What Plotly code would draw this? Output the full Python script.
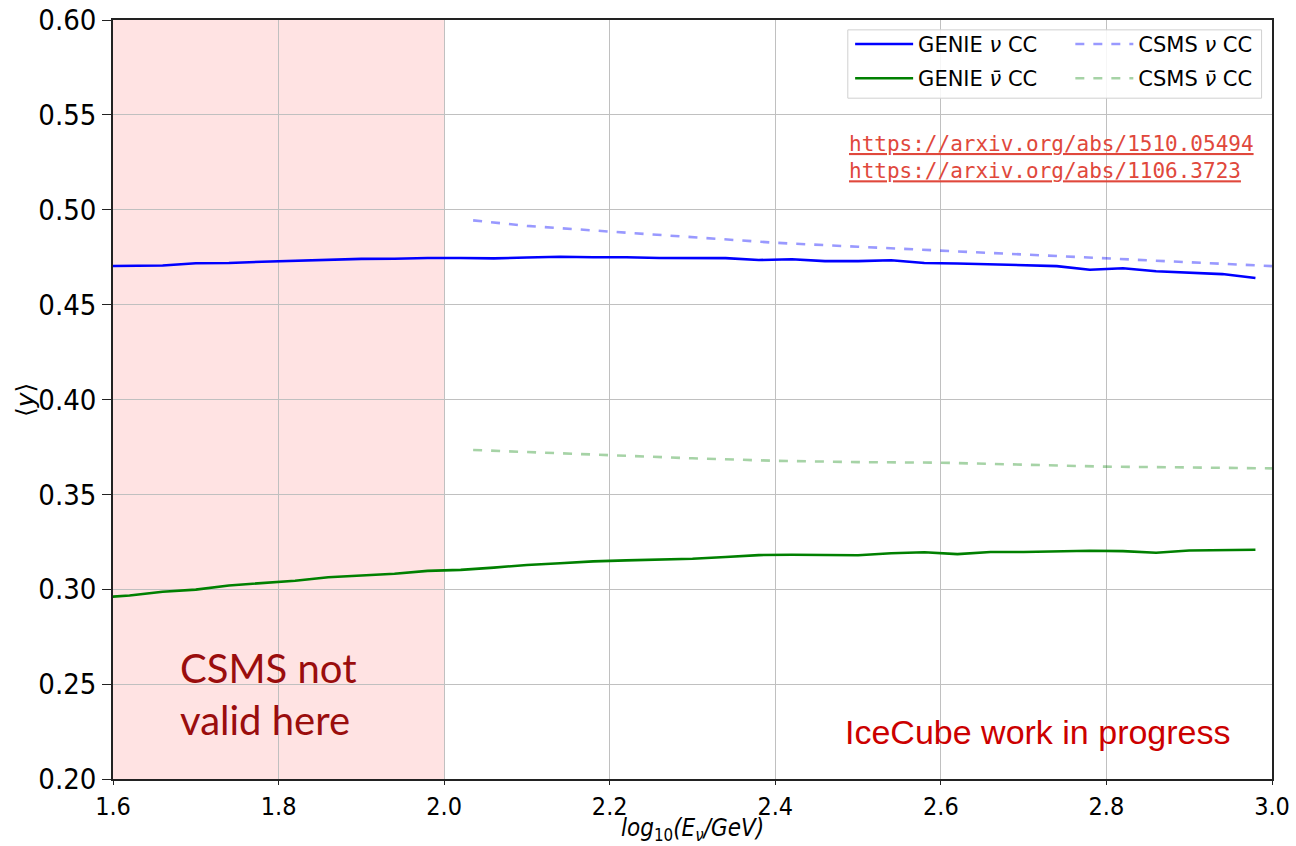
import plotly.graph_objects as go

# log10(E/GeV) bin centres for the GENIE curves
genie_x = [1.58, 1.62, 1.66, 1.70, 1.74, 1.78, 1.82, 1.86, 1.90, 1.94, 1.98, 2.02,
           2.06, 2.10, 2.14, 2.18, 2.22, 2.26, 2.30, 2.34, 2.38, 2.42, 2.46, 2.50,
           2.54, 2.58, 2.62, 2.66, 2.70, 2.74, 2.78, 2.82, 2.86, 2.90, 2.94, 2.98]
genie_nu = [0.4703, 0.4705, 0.4706, 0.4718, 0.4719, 0.4726, 0.4731, 0.4738, 0.4741,
            0.4742, 0.4746, 0.4746, 0.4744, 0.4748, 0.4752, 0.4750, 0.4750, 0.4746,
            0.4747, 0.4745, 0.4735, 0.4739, 0.4729, 0.4729, 0.4734, 0.4719, 0.4717,
            0.4713, 0.4709, 0.4703, 0.4684, 0.4692, 0.4676, 0.4669, 0.4661, 0.4640]
genie_nubar = [0.2955, 0.2967, 0.2987, 0.2998, 0.3020, 0.3034, 0.3045, 0.3063, 0.3073,
               0.3082, 0.3097, 0.3102, 0.3114, 0.3128, 0.3137, 0.3147, 0.3152, 0.3157,
               0.3161, 0.3170, 0.3180, 0.3182, 0.3181, 0.3179, 0.3190, 0.3195, 0.3185,
               0.3196, 0.3196, 0.3200, 0.3203, 0.3201, 0.3192, 0.3204, 0.3205, 0.3208]

# CSMS predictions
csms_x = [2.035, 2.1, 2.2, 2.3, 2.4, 2.5, 2.6, 2.7, 2.8, 2.9, 3.0]
csms_nu = [0.4944, 0.4915, 0.4885, 0.4855, 0.4826, 0.4805, 0.4785, 0.4765, 0.4745,
           0.4725, 0.4703]
csms_nubar = [0.3734, 0.3723, 0.3709, 0.3690, 0.3677, 0.3670, 0.3667, 0.3655, 0.3646,
              0.3642, 0.3637]

invalid_region = [1.6, 2.0]
x_range = [1.6, 3.0]
y_range = [0.20, 0.60]
x_ticks = [1.6, 1.8, 2.0, 2.2, 2.4, 2.6, 2.8, 3.0]
y_ticks = [0.20, 0.25, 0.30, 0.35, 0.40, 0.45, 0.50, 0.55, 0.60]

fig = go.Figure()

fig.add_trace(go.Scatter(x=genie_x, y=genie_nu, mode="lines", name="GENIE <i>ν</i> CC",
                         line=dict(color="#0000ff", width=2.6), legend="legend",
                         legendgroup="g1"))
fig.add_trace(go.Scatter(x=genie_x, y=genie_nubar, mode="lines", name="GENIE <i>ν̄</i> CC",
                         line=dict(color="#008000", width=2.6), legend="legend",
                         legendgroup="g2"))
fig.add_trace(go.Scatter(x=csms_x, y=csms_nu, mode="lines", name="CSMS <i>ν</i> CC",
                         line=dict(color="rgba(0,0,255,0.4)", width=2.6, dash="dash"),
                         legend="legend2", legendgroup="c1"))
fig.add_trace(go.Scatter(x=csms_x, y=csms_nubar, mode="lines", name="CSMS <i>ν̄</i> CC",
                         line=dict(color="rgba(0,128,0,0.35)", width=2.6, dash="dash"),
                         legend="legend2", legendgroup="c2"))

# shaded region where CSMS is not applicable
fig.add_shape(type="rect", xref="x", yref="paper", x0=invalid_region[0], x1=invalid_region[1],
              y0=0, y1=1, fillcolor="rgba(255,0,0,0.11)", line=dict(width=0), layer="below")

# legend frame spanning both legend columns
fig.add_shape(type="rect", xref="paper", yref="paper", x0=0.634, x1=0.991, y0=0.897, y1=0.987,
              fillcolor="rgba(255,255,255,0.85)", line=dict(color="#d0d0d0", width=1),
              layer="above")

fig.add_annotation(x=1.678, y=0.245, xref="x", yref="y", xanchor="left", yanchor="middle",
                   text="CSMS not<br>valid here", showarrow=False, align="left",
                   font=dict(family="Lato", size=40, color="#9a0d0d"))
fig.add_annotation(x=2.717, y=0.2248, xref="x", yref="y", xanchor="center", yanchor="middle",
                   text="IceCube work in progress", showarrow=False,
                   font=dict(family="Liberation Sans", size=34, color="#cc0000"))
fig.add_annotation(x=0.6335, y=0.819, xref="paper", yref="paper", xanchor="left",
                   yanchor="middle", showarrow=False, align="left",
                   text="<u>https://arxiv.org/abs/1510.05494</u><br><u>https://arxiv.org/abs/1106.3723</u>",
                   font=dict(family="DejaVu Sans Mono", size=21, color="#e0483c"))

# axis titles
fig.add_annotation(x=0.5, y=-0.066, xref="paper", yref="paper", xanchor="center",
                   yanchor="middle", showarrow=False,
                   text="<i>log</i><sub>10</sub><i>(E<sub>ν</sub>/GeV)</i>",
                   font=dict(family="DejaVu Sans Condensed", size=24, color="black"))
fig.add_annotation(x=-0.0755, y=0.5, xref="paper", yref="paper", xanchor="center",
                   yanchor="middle", showarrow=False, textangle=-90,
                   text="⟨<i>y</i>⟩",
                   font=dict(family="DejaVu Sans", size=25, color="black"))

axis_common = dict(showline=True, mirror=True, linecolor="#222222", linewidth=1.5,
                   showgrid=True, gridcolor="#c0c0c0", gridwidth=1, ticks="outside",
                   tickcolor="#222222", zeroline=False, automargin=False)

fig.update_xaxes(range=x_range, tickvals=x_ticks, ticktext=[f"{v:.1f}" for v in x_ticks],
                 ticklen=4,
                 tickfont=dict(family="DejaVu Sans Condensed", size=25, color="black"),
                 **axis_common)
fig.update_yaxes(range=y_range, tickvals=y_ticks, ticktext=[f"{v:.2f}" for v in y_ticks],
                 ticklen=9,
                 tickfont=dict(family="DejaVu Sans Condensed", size=29, color="black"),
                 **axis_common)

legend_common = dict(bgcolor="rgba(0,0,0,0)", borderwidth=0, yanchor="top", y=0.995,
                     xanchor="left", traceorder="grouped", tracegroupgap=4,
                     font=dict(family="DejaVu Sans", size=21, color="black"),
                     itemwidth=58)
fig.update_layout(
    width=1296, height=846,
    margin=dict(l=113, r=24, t=20, b=67),
    plot_bgcolor="white", paper_bgcolor="white",
    showlegend=True,
    legend=dict(x=0.636, **legend_common),
    legend2=dict(x=0.826, **legend_common),
)

fig.write_html("out.html")
